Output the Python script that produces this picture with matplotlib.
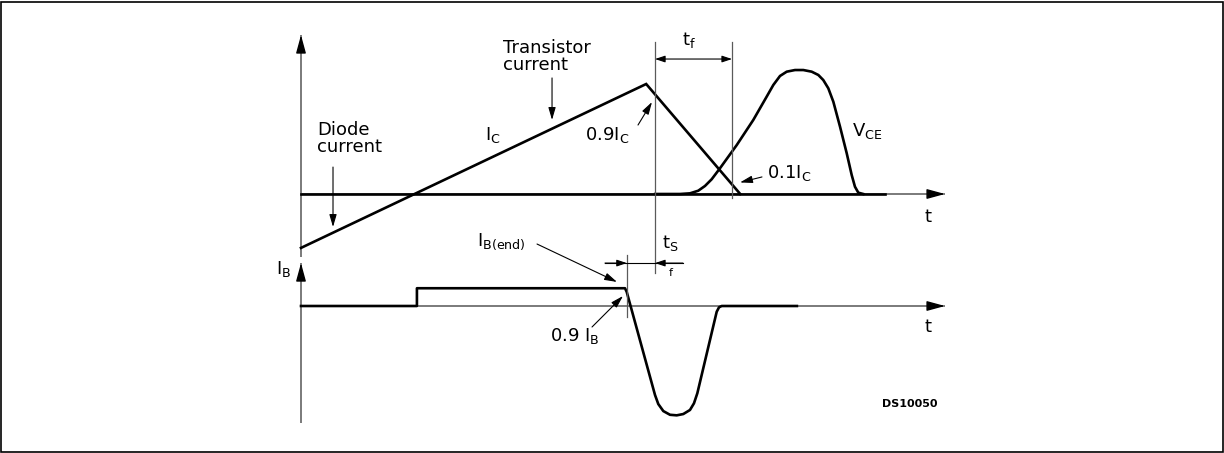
import matplotlib
matplotlib.use('Agg')
import matplotlib.pyplot as plt
from matplotlib.patches import Rectangle

# ---------------- data (time in arbitrary units, normalised amplitudes) -------------
# collector current I_C (diode current below zero, transistor current above)
ic_t = [0.0, 53.6, 68.2]
ic_v = [-0.49, 1.0, 0.0]
# zero level of the upper waveforms (thick)
base_t = [0.0, 90.7]
base_v = [0.0, 0.0]
# collector-emitter voltage V_CE
vce_t = [55.0, 58.85, 60.40, 61.69, 62.73, 63.77, 65.06, 67.66, 70.23, 72.31, 73.34,
         74.38, 75.42, 76.71, 78.0, 79.30, 80.33, 81.10, 81.88, 82.66, 83.70, 84.74,
         85.51, 86.02, 86.54, 87.31]
vce_v = [0.0, 0.0, 0.006, 0.03, 0.073, 0.134, 0.234, 0.445, 0.673, 0.885, 0.991,
         1.073, 1.112, 1.127, 1.127, 1.112, 1.082, 1.036, 0.961, 0.839, 0.612, 0.37,
         0.173, 0.066, 0.012, 0.0]
# base current I_B
ib_t = [0.0, 18.0, 18.0, 50.31, 50.57, 54.97, 55.48, 56.26, 57.30, 58.34, 59.36,
        60.40, 61.02, 61.54, 64.55, 64.91, 65.33, 77.0]
ib_v = [0.0, 0.0, 0.96, 0.96, 0.77, -4.81, -5.30, -5.68, -5.88, -5.91, -5.84,
        -5.62, -5.26, -4.72, -0.31, -0.07, 0.0, 0.0]

# ---------------- figure / scales ----------------
W, H = 1224, 453
X0, KX = 301, 6.44          # time axis origin (px) and px per time unit
Y1, K1 = 194, 110           # upper panel zero (px) and px per unit
Y2, K2 = 306, 18.5          # lower panel zero (px) and px per unit

fig = plt.figure(figsize=(W / 100, H / 100), dpi=100)
fig.patch.set_facecolor('white')
ax1 = fig.add_axes([0, 0, 1, 1])
ax2 = fig.add_axes([0, 0, 1, 1])
for ax in (ax1, ax2):
    ax.set_xlim(-X0 / KX, (W - X0) / KX)
    ax.axis('off')
    ax.patch.set_alpha(0)
ax1.set_ylim((Y1 - H) / K1, Y1 / K1)
ax2.set_ylim((Y2 - H) / K2, Y2 / K2)

AX_C = '#6f6f6f'
DIM_C = '#5a5a5a'
WAVE_LW = 1.9
FS = 13


def arrow(ax, p_from, p_to, hl=0.75, hw=0.22, color='black', lw=0.8):
    ax.annotate('', xy=p_to, xytext=p_from,
                arrowprops=dict(arrowstyle=f'-|>,head_length={hl},head_width={hw}',
                                color=color, lw=lw, shrinkA=0, shrinkB=0))


def axis_arrow(ax, p0, p1, head_frac):
    ax.plot([p0[0], p1[0]], [p0[1], p1[1]], color=AX_C, lw=1.3, solid_capstyle='butt')
    q = (p1[0] - (p1[0] - p0[0]) * head_frac, p1[1] - (p1[1] - p0[1]) * head_frac)
    arrow(ax, q, p1, hl=1.1, hw=0.3, color='black', lw=1.0)


# ---------------- upper panel ----------------
axis_arrow(ax1, (0, -0.573), (0, 1.445), 0.075)
axis_arrow(ax1, (0, 0), (100, 0), 0.023)
ax1.plot(base_t, base_v, color='black', lw=WAVE_LW)
ax1.plot(ic_t, ic_v, color='black', lw=WAVE_LW, solid_joinstyle='miter')
ax1.plot(vce_t, vce_v, color='black', lw=WAVE_LW, solid_joinstyle='round')

# dimension lines for t_f
ax1.plot([54.97, 54.97], [1.382, -0.718], color=DIM_C, lw=0.9)
ax1.plot([66.93, 66.93], [1.382, -0.036], color=DIM_C, lw=0.9)
ax1.annotate('', xy=(54.97, 1.227), xytext=(66.93, 1.227),
             arrowprops=dict(arrowstyle='<|-|>,head_length=0.6,head_width=0.2',
                             color='black', lw=0.8, shrinkA=0, shrinkB=0))

# labels upper
ax1.text(31.37, 1.41, 'Transistor\ncurrent', fontsize=FS, ha='left', va='top',
         linespacing=0.92)
arrow(ax1, (38.98, 1.055), (38.98, 0.673))
ax1.text(2.48, 0.66, 'Diode\ncurrent', fontsize=FS, ha='left', va='top',
         linespacing=0.92)
arrow(ax1, (4.97, 0.245), (4.97, -0.30))
ax1.text(28.57, 0.536, r'$\mathregular{I_C}$', fontsize=FS, ha='left', va='center')
ax1.text(44.1, 0.536, r'$\mathregular{0.9I_C}$', fontsize=FS, ha='left', va='center')
arrow(ax1, (52.33, 0.627), (54.5, 0.836))
ax1.text(85.56, 0.573, r'$\mathregular{V_{CE}}$', fontsize=FS, ha='left', va='center')
ax1.text(72.36, 0.195, r'$\mathregular{0.1I_C}$', fontsize=FS, ha='left', va='center')
arrow(ax1, (71.58, 0.155), (68.17, 0.105))
ax1.text(59.16, 1.40, r'$\mathregular{t_f}$', fontsize=FS, ha='left', va='center')
ax1.text(97.36, -0.209, 't', fontsize=FS, ha='center', va='center')

# ---------------- lower panel ----------------
axis_arrow(ax2, (0, -6.32), (0, 2.32), 0.095)
axis_arrow(ax2, (0, 0), (100, 0), 0.023)
ax2.plot(ib_t, ib_v, color='black', lw=WAVE_LW, solid_joinstyle='round')

ax2.plot([50.6, 50.6], [2.76, -0.59], color=DIM_C, lw=0.9)
ax2.plot([47.2, 59.3], [2.32, 2.32], color='black', lw=0.8)
arrow(ax2, (47.2, 2.32), (50.6, 2.32), hl=0.6, hw=0.2)
arrow(ax2, (59.3, 2.32), (54.97, 2.32), hl=0.6, hw=0.2)

ax2.text(-3.88, 2.0, r'$\mathregular{I_B}$', fontsize=FS, ha='left', va='center')
ax2.text(27.33, 3.46, r'$\mathregular{I_{B(end)}}$', fontsize=FS, ha='left', va='center')
arrow(ax2, (36.65, 3.35), (49.07, 1.30))
ax2.text(56.06, 3.41, r'$\mathregular{t_S}$', fontsize=FS, ha='left', va='center')
ax2.text(57.45, 1.78, 'f', fontsize=8, ha='center', va='center')
ax2.text(38.66, -1.62, r'$\mathregular{0.9\ I_B}$', fontsize=FS, ha='left', va='center')
arrow(ax2, (45.19, -1.135), (50.0, 0.54))
ax2.text(97.36, -1.135, 't', fontsize=FS, ha='center', va='center')
ax2.text(90.2, -5.30, 'DS10050', fontsize=8, fontweight='bold', ha='left', va='center')

# frame around the whole figure
fig.add_artist(Rectangle((1 / W, 1 / H), (W - 2.5) / W, (H - 2.5) / H,
                         transform=fig.transFigure, fill=False, lw=1.2, ec='black'))

fig.savefig('out.png', dpi=100)
